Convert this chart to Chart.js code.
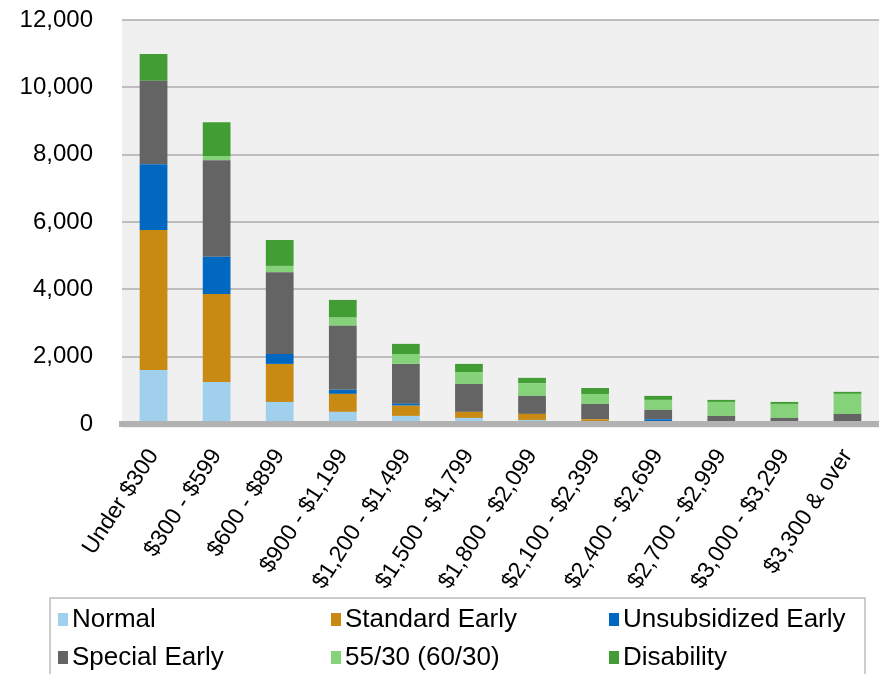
<!DOCTYPE html>
<html>
<head>
<meta charset="utf-8">
<script src="https://cdn.jsdelivr.net/npm/chart.js@4/dist/chart.umd.min.js"></script>
<style>
  html, body { margin: 0; padding: 0; background: #ffffff; }
  #wrap { position: relative; width: 879px; height: 674px; }
</style>
</head>
<body>
<div id="wrap"><canvas id="chart" width="879" height="674"></canvas></div>
<script>
// Benefit ranges (monthly amount)
const categories = [
  'Under $300', '$300 - $599', '$600 - $899', '$900 - $1,199',
  '$1,200 - $1,499', '$1,500 - $1,799', '$1,800 - $2,099', '$2,100 - $2,399',
  '$2,400 - $2,699', '$2,700 - $2,999', '$3,000 - $3,299', '$3,300 & over'
];

// Number of retirees by retirement type
const normal        = [1605, 1250,  655,  360,  240,  180, 120,  40,  20,  10,   5,   5];
const standardEarly = [4160, 2615, 1130,  535,  305,  180, 180, 100,  30,  20,  10,  15];
const unsubEarly    = [1950, 1105,  295,  120,   60,    0,   0,   0,  90,  10,   5,   5];
const specialEarly  = [2480, 2865, 2425, 1900, 1180,  830, 535, 455, 280, 200, 160, 275];
const rule5530      = [   0,  125,  190,  245,  295,  355, 375, 297, 296, 416, 416, 595];
const disability    = [ 795, 1000,  770,  525,  300,  240, 160, 178, 119,  60,  60,  60];

const seriesNames  = ['Normal', 'Standard Early', 'Unsubsidized Early', 'Special Early', '55/30 (60/30)', 'Disability'];
const seriesValues = [normal, standardEarly, unsubEarly, specialEarly, rule5530, disability];
const seriesColors = ['#a0d0ec', '#c88a12', '#0068c0', '#646464', '#85d27a', '#439d35'];

// Y axis ticks
const yMin = 0, yMax = 12000, yStep = 2000;

const FONT = "'Liberation Sans', Arial, sans-serif";

// Light grey plot background
const plotBackground = {
  id: 'plotBackground',
  beforeDraw(chart) {
    const { ctx, chartArea: a } = chart;
    ctx.save();
    ctx.fillStyle = '#f0f0f0';
    ctx.fillRect(a.left, a.top, a.right - a.left, a.bottom - a.top + 4);
    ctx.restore();
  }
};

// Boxed legend laid out as a 3 x 2 grid below the axis labels
const gridLegend = {
  id: 'gridLegend',
  afterDraw(chart) {
    const { ctx } = chart;
    const box = { left: 50, top: 598, right: 865, bottom: 690 };
    const colX = [58, 331, 609];
    const rowBase = [627, 665];
    ctx.save();
    ctx.strokeStyle = '#bcbcbc';
    ctx.lineWidth = 1.5;
    ctx.strokeRect(box.left, box.top, box.right - box.left, box.bottom - box.top);
    ctx.font = '26px ' + FONT;
    ctx.textBaseline = 'alphabetic';
    ctx.textAlign = 'left';
    chart.data.datasets.forEach((ds, i) => {
      const x = colX[i % 3];
      const base = rowBase[Math.floor(i / 3)];
      ctx.fillStyle = ds.backgroundColor;
      ctx.fillRect(x, base - 14, 10, 13);
      ctx.fillStyle = '#000000';
      ctx.fillText(ds.label, x + 14, base);
    });
    ctx.restore();
  }
};

new Chart(document.getElementById('chart'), {
  type: 'bar',
  data: {
    labels: categories,
    datasets: seriesNames.map((name, i) => ({
      label: name,
      data: seriesValues[i],
      backgroundColor: seriesColors[i],
      borderWidth: 0,
      barPercentage: 0.44,
      categoryPercentage: 1.0
    }))
  },
  options: {
    responsive: false,
    animation: false,
    layout: { padding: { top: 20, right: 0, bottom: 80, left: 0 } },
    plugins: {
      legend: { display: false },
      tooltip: { enabled: false }
    },
    scales: {
      x: {
        stacked: true,
        grid: { display: false, drawTicks: false },
        border: { display: true, color: '#b2b2b2', width: 6, z: 1 },
        ticks: {
          color: '#000000',
          font: { family: FONT, size: 23 },
          minRotation: 57,
          maxRotation: 57,
          padding: 20,
          labelOffset: 0,
          autoSkip: false
        },
        afterFit(scale) {
          scale.height = 170;
          scale.paddingLeft = 0;
          scale.paddingRight = 0;
        }
      },
      y: {
        stacked: true,
        min: yMin,
        max: yMax,
        grid: { color: '#bdbdbd', lineWidth: 2, drawTicks: false },
        border: { display: false },
        ticks: {
          stepSize: yStep,
          color: '#000000',
          font: { family: FONT, size: 24 },
          padding: 29,
          callback: (v) => v.toLocaleString('en-US')
        },
        afterFit(scale) {
          scale.width = 122;
          scale.paddingTop = 0;
          scale.paddingBottom = 0;
        }
      }
    }
  },
  plugins: [plotBackground, gridLegend]
});
</script>
</body>
</html>
